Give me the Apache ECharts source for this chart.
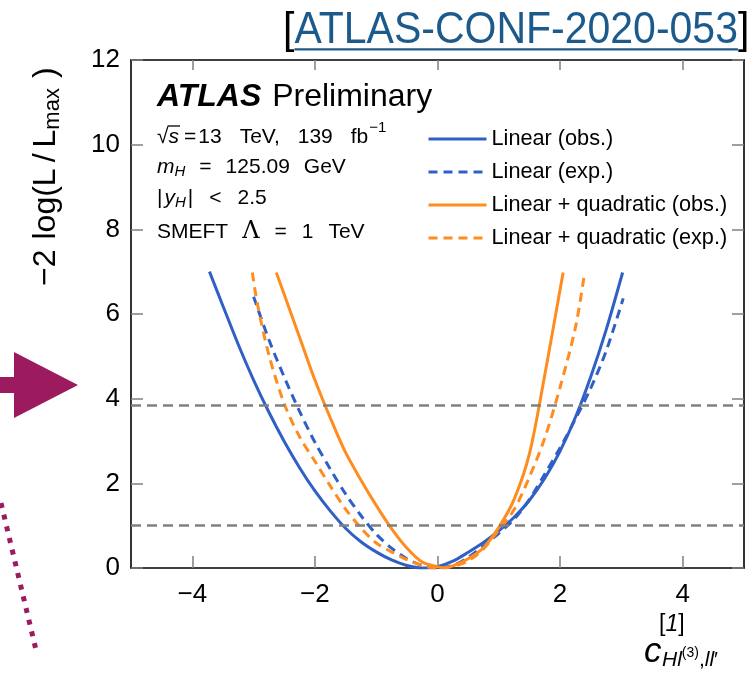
<!DOCTYPE html>
<html>
<head>
<meta charset="utf-8">
<script src="https://cdn.jsdelivr.net/npm/echarts@6/dist/echarts.min.js"></script>
<style>
  html, body { margin: 0; padding: 0; background: #ffffff; }
  #chart { width: 753px; height: 678px; }
</style>
</head>
<body>
<div id="chart"></div>
<script>
// Axis ticks
const xTicks = [-4, -2, 0, 2, 4];
const yTicks = [0, 2, 4, 6, 8, 10, 12];

// Reference levels: 68% and 95% CL for one parameter
const refLevels = [1, 3.84];

// Linear (obs.)
const linObsX = [-3.72, -3.5, -3.25, -3.0, -2.75, -2.5, -2.25, -2.0, -1.75, -1.5, -1.25, -1.0, -0.75, -0.5, -0.25, 0, 0.25, 0.5, 0.75, 1.0, 1.25, 1.5, 1.75, 2.0, 2.25, 2.5, 2.75, 3.02];
const linObsY = [7.0, 6.19, 5.28, 4.44, 3.68, 2.99, 2.37, 1.82, 1.35, 0.94, 0.62, 0.38, 0.19, 0.06, 0.0, 0.03, 0.16, 0.37, 0.60, 0.88, 1.20, 1.60, 2.12, 2.76, 3.56, 4.52, 5.62, 6.98];

// Linear (exp.)
const linExpX = [-3.0, -2.75, -2.5, -2.25, -2.0, -1.75, -1.5, -1.25, -1.0, -0.75, -0.5, -0.25, 0, 0.25, 0.5, 0.75, 1.0, 1.25, 1.5, 1.75, 2.0, 2.25, 2.5, 2.75, 3.03];
const linExpY = [6.41, 5.39, 4.51, 3.70, 2.97, 2.34, 1.75, 1.24, 0.80, 0.47, 0.22, 0.06, 0.0, 0.06, 0.25, 0.52, 0.82, 1.15, 1.62, 2.22, 2.84, 3.52, 4.25, 5.12, 6.37];

// Linear + quadratic (obs.)
const quadObsX = [-2.63, -2.5, -2.25, -2.0, -1.75, -1.5, -1.25, -1.0, -0.75, -0.5, -0.25, 0, 0.1, 0.25, 0.5, 0.75, 1.0, 1.25, 1.5, 1.75, 2.0, 2.05];
const quadObsY = [6.98, 6.46, 5.45, 4.44, 3.55, 2.73, 2.08, 1.48, 0.93, 0.47, 0.14, 0.03, 0.0, 0.05, 0.22, 0.48, 0.96, 1.62, 2.70, 4.56, 6.58, 6.98];

// Linear + quadratic (exp.)
const quadExpX = [-3.02, -2.94, -2.75, -2.5, -2.25, -2.0, -1.75, -1.5, -1.25, -1.0, -0.75, -0.5, -0.25, 0, 0.25, 0.5, 0.75, 1.0, 1.25, 1.5, 1.75, 2.0, 2.25, 2.39];
const quadExpY = [6.98, 6.25, 5.03, 3.88, 3.10, 2.52, 1.94, 1.39, 0.95, 0.59, 0.38, 0.20, 0.06, 0.0, 0.04, 0.17, 0.45, 0.90, 1.38, 2.15, 3.07, 4.27, 5.68, 6.88];

const seriesNames = ['Linear (obs.)', 'Linear (exp.)', 'Linear + quadratic (obs.)', 'Linear + quadratic (exp.)'];

const BLUE = '#3060c6';
const ORANGE = '#ff8c1e';
const GREY = '#808080';
const PLUM = '#9b1b5e';
const LINK = '#1d5a8c';
const SANS = '"Liberation Sans", Arial, Helvetica, sans-serif';

function pairs(xs, ys) { return xs.map((x, i) => [x, ys[i]]); }
function minus(v) { return v < 0 ? '\u2212' + Math.abs(v) : String(v); }

// text measurement for laying out mixed-font runs
const mctx = document.createElement('canvas').getContext('2d');
function textWidth(t, font) { mctx.font = font; return mctx.measureText(t).width; }
function runs(x, y, parts, fill) {
  const out = [];
  let cx = x;
  parts.forEach(p => {
    out.push({
      type: 'text', x: cx, y: y + (p.dy || 0), silent: true,
      style: { text: p.t, font: p.f, fill: p.c || fill || '#000', align: 'left', verticalAlign: 'middle' }
    });
    cx += textWidth(p.t, p.f) + (p.gap || 0);
  });
  return { items: out, end: cx };
}

const f = (size, style) => (style ? style + ' ' : '') + size + 'px ' + SANS;

function curve(name, xs, ys, color, dashed) {
  return {
    name: name, type: 'line', data: pairs(xs, ys), symbol: 'none', smooth: 0.3,
    clip: true, silent: true,
    lineStyle: { color: color, width: 3, type: dashed ? [9, 6] : 'solid' },
    itemStyle: { color: color }
  };
}

const graphics = [];

// reference header
(function () {
  const font = f(41);
  const r = runs(0, 0, [
    { t: '[', f: font, c: '#000' },
    { t: 'ATLAS-CONF-2020-053', f: font, c: LINK },
    { t: ']', f: font, c: '#000' }
  ]);
  const x0 = textWidth('[', font);
  const x1 = x0 + textWidth('ATLAS-CONF-2020-053', font);
  r.items.push({ type: 'line', silent: true, shape: { x1: x0, y1: 17, x2: x1, y2: 17 }, style: { stroke: LINK, lineWidth: 2 } });
  graphics.push({ type: 'group', x: 283, y: 31, scaleY: 1.08, children: r.items });
})();

// experiment label
graphics.push(...runs(157, 97, [
  { t: 'ATLAS', f: f(32, 'italic bold'), gap: 2 },
  { t: ' Preliminary', f: f(32) }
]).items);

// info block
(function () {
  const n = f(21), it = f(21, 'italic'), sm = f(15), smi = f(15, 'italic');
  // sqrt(s)
  const sq = runs(157, 137, [{ t: '\u221a', f: n }]);
  graphics.push(...sq.items);
  const sW = textWidth('s', it);
  graphics.push({ type: 'line', silent: true, shape: { x1: sq.end - 1, y1: 126, x2: sq.end + sW + 1, y2: 126 }, style: { stroke: '#000', lineWidth: 1.3 } });
  graphics.push(...runs(sq.end, 137, [
    { t: 's', f: it, gap: 5 },
    { t: '=', f: n, gap: 2 },
    { t: '13', f: n, gap: 18 },
    { t: 'TeV,', f: n, gap: 18 },
    { t: '139', f: n, gap: 18 },
    { t: 'fb', f: n, gap: 1 },
    { t: '\u22121', f: sm, dy: -9 }
  ]).items);
  graphics.push(...runs(157, 167, [
    { t: 'm', f: it },
    { t: 'H', f: smi, dy: 5, gap: 14 },
    { t: '=', f: n, gap: 14 },
    { t: '125.09', f: n, gap: 14 },
    { t: 'GeV', f: n }
  ]).items);
  graphics.push(...runs(157, 198, [
    { t: '|', f: n, gap: 2 },
    { t: 'y', f: it },
    { t: 'H', f: smi, dy: 5, gap: 2 },
    { t: '|', f: n, gap: 16 },
    { t: '<', f: n, gap: 16 },
    { t: '2.5', f: n }
  ]).items);
  graphics.push(...runs(157, 232, [
    { t: 'SMEFT', f: n, gap: 14 },
    { t: '\u039b', f: '24px "DejaVu Serif", serif', gap: 15 },
    { t: '=', f: n, gap: 15 },
    { t: '1', f: n, gap: 15 },
    { t: 'TeV', f: n }
  ]).items);
})();

// y-axis title, rotated to read upwards
(function () {
  const big = f(32), sub = f(22);
  const r = runs(0, 0, [
    { t: '\u22122', f: big, gap: 10 },
    { t: 'log(L', f: big, gap: 6 },
    { t: '/', f: big, gap: 6 },
    { t: 'L', f: big },
    { t: 'max', f: sub, dy: 7, gap: 10 },
    { t: ')', f: big }
  ]);
  graphics.push({ type: 'group', x: 46, y: 286, rotation: Math.PI / 2, children: r.items });
})();

// x-axis title: c^{[1]}_{Hl(3),ll'}
(function () {
  graphics.push(...runs(644, 652, [{ t: 'c', f: f(35, 'italic') }]).items);
  graphics.push(...runs(659, 625, [
    { t: '[', f: f(23) }, { t: '1', f: f(23, 'italic') }, { t: ']', f: f(23) }
  ]).items);
  graphics.push(...runs(662, 660, [
    { t: 'Hl', f: f(21, 'italic') },
    { t: '(3)', f: f(14), dy: -7 },
    { t: ',', f: f(21) },
    { t: 'll', f: f(21, 'italic') },
    { t: '\u2032', f: f(21) }
  ]).items);
})();

// slide arrow pointing at the plot
graphics.push({
  type: 'polygon', silent: true,
  shape: { points: [[-5, 377], [14, 377], [14, 352], [78, 385], [14, 418], [14, 393], [-5, 393]] },
  style: { fill: PLUM }
});
// dotted connector
graphics.push({
  type: 'line', silent: true,
  shape: { x1: 1, y1: 503, x2: 36, y2: 650 },
  style: { stroke: PLUM, lineWidth: 5, lineDash: [5, 7] }
});

const frameLine = { show: true, onZero: false, lineStyle: { color: '#000', width: 1.6 } };
const tickStyle = { inside: true, length: 12, lineStyle: { color: GREY, width: 1.5 } };
const labelFont = { color: '#000', fontSize: 26, fontFamily: SANS };

const series = [
  curve(seriesNames[0], linObsX, linObsY, BLUE, false),
  curve(seriesNames[1], linExpX, linExpY, BLUE, true),
  curve(seriesNames[2], quadObsX, quadObsY, ORANGE, false),
  curve(seriesNames[3], quadExpX, quadExpY, ORANGE, true),
  {
    name: 'levels', type: 'line', data: [], silent: true, z: 5,
    markLine: {
      silent: true, symbol: 'none', animation: false,
      label: { show: false },
      lineStyle: { color: GREY, width: 2.5, type: [10, 6] },
      data: refLevels.map(v => ({ yAxis: v }))
    }
  }
];

const option = {
  animation: false,
  backgroundColor: '#ffffff',
  grid: { left: 131, top: 60, width: 613, height: 508, containLabel: false },
  legend: {
    data: seriesNames,
    orient: 'vertical', left: 422, top: 123,
    itemWidth: 58, itemHeight: 14, itemGap: 11,
    selectedMode: false,
    itemStyle: { opacity: 0, color: 'transparent', borderWidth: 0 },
    lineStyle: { width: 3 },
    textStyle: { color: '#000', fontSize: 21.7, fontFamily: SANS }
  },
  xAxis: [
    {
      type: 'value', position: 'bottom', min: -5, max: 5,
      axisLine: frameLine, splitLine: { show: false },
      axisTick: Object.assign({ customValues: xTicks }, tickStyle),
      axisLabel: Object.assign({ customValues: xTicks, margin: 14, formatter: minus }, labelFont)
    },
    {
      type: 'value', position: 'top', min: -5, max: 5,
      axisLine: frameLine, splitLine: { show: false },
      axisTick: Object.assign({ customValues: xTicks }, tickStyle, { length: 10 }),
      axisLabel: { show: false }
    }
  ],
  yAxis: [
    {
      type: 'value', position: 'left', min: 0, max: 12, interval: 2,
      axisLine: frameLine, splitLine: { show: false },
      axisTick: tickStyle,
      axisLabel: Object.assign({ margin: 11, formatter: v => String(v) }, labelFont)
    },
    {
      type: 'value', position: 'right', min: 0, max: 12, interval: 2,
      axisLine: frameLine, splitLine: { show: false },
      axisTick: tickStyle,
      axisLabel: { show: false }
    }
  ],
  series: series,
  graphic: { elements: graphics }
};

const chart = echarts.init(document.getElementById('chart'), null, { renderer: 'canvas' });
chart.setOption(option);
</script>
</body>
</html>
